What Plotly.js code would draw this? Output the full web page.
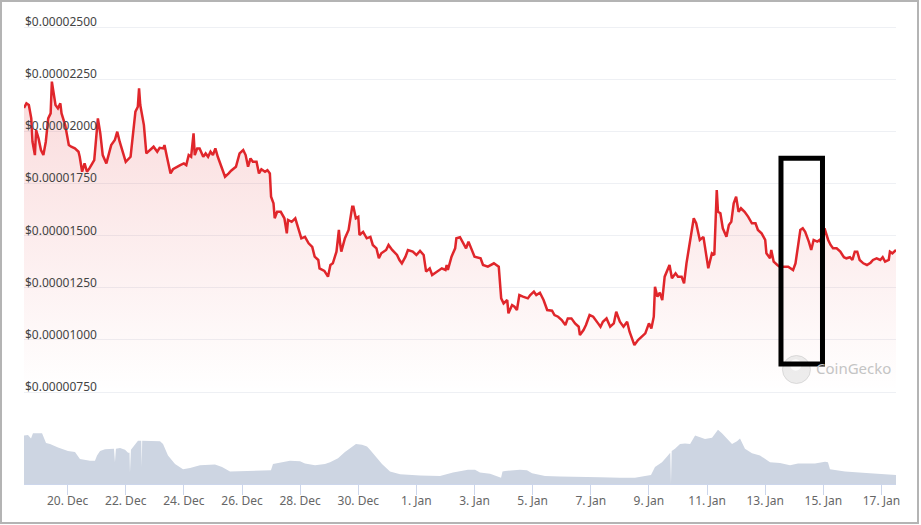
<!DOCTYPE html>
<html><head><meta charset="utf-8">
<script src="https://cdn.plot.ly/plotly-3.0.1.min.js"></script>
<style>
html,body{margin:0;padding:0;background:#fff;}
#chart{width:921px;height:525px;}
#frame{position:absolute;left:0;top:0;width:915px;height:520px;border:2px solid #b4b4b4;pointer-events:none;}
</style></head><body>
<div id="chart"></div><div id="frame"></div>
<script>
// ---- data ----
const seriesStart = '2023-12-18T12:00:00Z';
const xStart = '2023-12-18 12:00';
const xEnd = '2024-01-17 12:00';

// hours after seriesStart for each price point
const priceHours = [0,2,4,6,7,9,10,12,14,16,18,20,22,23,26,28,30,31,34,37,39,42,45,46,48,50,52,54,58,61,63,65,68,70,72,75,77,79,82,84,88,90,92,94,95,96,99,101,105,107,110,112,
115,116,118,121,123,126,129,132,134,136,138,140,141,143,145,148,150,152,154,156,158,160,163,166,169,171,175,178,181,183,185,187,189,192,194,196,199,201,203,204,206,207,209,212,215,217,218,221,224,226,229,232,235,
238,240,243,244,248,251,253,255,258,260,261,262,265,268,271,272,274,276,277,280,283,286,288,291,293,295,299,301,304,308,310,312,315,317,321,324,327,330,332,335,337,341,345,348,349,350,353,356,357,360,363,365,367,370,372,377,379,383,388,390,392,394,396,399,400,403,405,407,409,412,416,418,421,423,426,429,432,436,438,441,444,447,449,452,455,458,459,462,464,467,470,474,476,478,481,484,487,489,492,
495,498,500,504,507,510,513,516,518,520,521,523,525,527,529,533,535,538,540,543,545,547,551,553,555,558,561,563,565,568,570,572,573,575,577,580,582,584,586,588,590,592,595,598,601,604,606,609,612,613,616,617,619,622,624,628,631,635,637,639,641,643,645,648,650,652,655,657,659,661,664,666,668,671,674,677,679,682,684,686,688,690,693,696,699,701,704,707,709,711,714,715,717,720];

// price in USD
const priceUsd = [2.112e-5,2.134e-5,2.126e-5,2.062e-5,1.950e-5,1.886e-5,2.006e-5,1.966e-5,1.910e-5,1.886e-5,1.950e-5,2.062e-5,2.086e-5,2.238e-5,2.126e-5,2.110e-5,2.134e-5,2.086e-5,2.030e-5,1.934e-5,1.926e-5,1.918e-5,1.902e-5,1.878e-5,1.806e-5,1.846e-5,1.806e-5,1.822e-5,1.862e-5,2.062e-5,1.990e-5,1.886e-5,1.846e-5,1.886e-5,1.934e-5,1.958e-5,1.998e-5,1.950e-5,1.894e-5,1.854e-5,1.878e-5,1.998e-5,2.094e-5,2.118e-5,2.206e-5,2.126e-5,2.030e-5,1.894e-5,1.918e-5,1.926e-5,1.902e-5,1.921e-5,
1.918e-5,1.934e-5,1.878e-5,1.798e-5,1.818e-5,1.830e-5,1.838e-5,1.846e-5,1.838e-5,1.886e-5,1.878e-5,1.990e-5,1.886e-5,1.918e-5,1.918e-5,1.878e-5,1.894e-5,1.878e-5,1.902e-5,1.886e-5,1.918e-5,1.878e-5,1.830e-5,1.782e-5,1.798e-5,1.811e-5,1.830e-5,1.894e-5,1.910e-5,1.886e-5,1.830e-5,1.870e-5,1.854e-5,1.854e-5,1.798e-5,1.818e-5,1.806e-5,1.814e-5,1.798e-5,1.686e-5,1.655e-5,1.583e-5,1.614e-5,1.614e-5,1.583e-5,1.511e-5,1.575e-5,1.566e-5,1.583e-5,1.542e-5,1.487e-5,1.494e-5,1.463e-5,
1.446e-5,1.399e-5,1.383e-5,1.343e-5,1.331e-5,1.303e-5,1.359e-5,1.367e-5,1.423e-5,1.527e-5,1.463e-5,1.423e-5,1.487e-5,1.527e-5,1.638e-5,1.638e-5,1.583e-5,1.590e-5,1.503e-5,1.518e-5,1.487e-5,1.494e-5,1.455e-5,1.439e-5,1.391e-5,1.415e-5,1.431e-5,1.455e-5,1.431e-5,1.407e-5,1.383e-5,1.367e-5,1.399e-5,1.431e-5,1.423e-5,1.407e-5,1.427e-5,1.407e-5,1.327e-5,1.343e-5,1.311e-5,1.327e-5,1.343e-5,1.335e-5,1.359e-5,1.335e-5,1.399e-5,1.439e-5,1.487e-5,1.492e-5,1.463e-5,1.439e-5,1.471e-5,1.431e-5,1.399e-5,1.391e-5,1.359e-5,1.351e-5,1.367e-5,1.359e-5,1.351e-5,1.199e-5,1.175e-5,1.191e-5,1.127e-5,1.167e-5,1.159e-5,1.143e-5,1.215e-5,1.207e-5,1.199e-5,1.215e-5,1.231e-5,1.215e-5,1.226e-5,1.191e-5,1.143e-5,1.140e-5,1.119e-5,1.111e-5,1.095e-5,1.071e-5,1.103e-5,1.103e-5,1.079e-5,1.063e-5,1.023e-5,1.047e-5,1.071e-5,1.119e-5,1.111e-5,1.079e-5,1.063e-5,1.087e-5,1.103e-5,1.063e-5,1.079e-5,1.135e-5,1.087e-5,
1.063e-5,1.087e-5,1.039e-5,0.975e-5,0.999e-5,1.015e-5,1.031e-5,1.079e-5,1.055e-5,1.111e-5,1.255e-5,1.207e-5,1.226e-5,1.191e-5,1.303e-5,1.359e-5,1.295e-5,1.319e-5,1.303e-5,1.303e-5,1.271e-5,1.367e-5,1.511e-5,1.583e-5,1.559e-5,1.479e-5,1.494e-5,1.415e-5,1.343e-5,1.415e-5,1.407e-5,1.718e-5,1.614e-5,1.607e-5,1.535e-5,1.494e-5,1.551e-5,1.566e-5,1.655e-5,1.686e-5,1.614e-5,1.631e-5,1.614e-5,1.590e-5,1.559e-5,1.559e-5,1.527e-5,1.511e-5,1.479e-5,1.415e-5,1.391e-5,1.431e-5,1.375e-5,1.359e-5,1.351e-5,1.351e-5,1.351e-5,1.335e-5,1.367e-5,1.446e-5,1.527e-5,1.535e-5,1.518e-5,1.471e-5,1.431e-5,1.479e-5,1.471e-5,1.479e-5,1.455e-5,1.535e-5,1.479e-5,1.455e-5,1.439e-5,1.439e-5,1.423e-5,1.396e-5,1.391e-5,1.396e-5,1.383e-5,1.423e-5,1.423e-5,1.383e-5,1.367e-5,1.359e-5,1.370e-5,1.383e-5,1.391e-5,1.383e-5,1.396e-5,1.375e-5,1.383e-5,1.423e-5,1.415e-5,1.431e-5];

// hours after seriesStart for each volume point
const volumeHours = [0,3.3,5.8,7.4,14.9,18.2,21.5,28.1,36.3,42.1,46.2,54.5,58.6,60.3,62.8,66.9,74.3,75.1,75.9,79.3,83.4,85.9,87.1,87.5,88.3,90,94.1,96.8,97.2,97.6,104,112.3,114.8,118.9,124.7,131.3,137.1,145.3,157.7,163.5,170.1,186.6,199,203.9,205.6,211.4,219.6,227.9,232,240.3,248.5,252.7,259.3,265,270.8,274.1,279.1,283.2,285.7,289.8,295.6,302.2,310.5,327,343.5,354.2,360,366.6,372.4,376.5,384.8,392.2,393.9,395.1,397.2,409.5,415.3,419.5,430.2,442.6,459.1,475.6,492.1,504.5,512.8,517.7,521,526.8,531.7,533.6,534.2,534.8,537.5,541.7,545.8,550,554.1,558.2,562.3,568.1,571.4,573,576.3,580.5,584.6,588.7,591.2,595.3,601.1,607.7,611.9,616,624.2,632.5,639.1,653.1,661.4,663.8,665.5,677.9,698.5,720];
// relative volume (arbitrary units, axis hidden)
const volumeRel = [85,86,80,89,89,72,70,64,58,56,44,41,41,50,58,61,62,38,62,63,60,55,55,20,60,65,76,76,30,76,75,75,70,50,35,26,28,33,34,30,22,23,25,24,35,37,41,40,36,33,35,38,45,56,66,70,69,66,60,50,35,22,17,15,14,20,22,25,25,20,18,12,11,22,23,25,24,19,14,13,13,12,11,11,14,16,30,38,50,55,0,58,62,70,71,70,85,82,79,81,90,95,89,80,70,75,80,62,54,50,44,38,37,33,36,36,39,38,26,22,19,16];

const xTickDates = ['2023-12-20','2023-12-22','2023-12-24','2023-12-26','2023-12-28','2023-12-30','2024-01-01','2024-01-03','2024-01-05','2024-01-07','2024-01-09','2024-01-11','2024-01-13','2024-01-15','2024-01-17'];
const xTickLabels = ['20. Dec','22. Dec','24. Dec','26. Dec','28. Dec','30. Dec','1. Jan','3. Jan','5. Jan','7. Jan','9. Jan','11. Jan','13. Jan','15. Jan','17. Jan'];
const priceTickValues = [0.0000075,0.00001,0.0000125,0.000015,0.0000175,0.00002,0.0000225,0.000025];
const priceTickLabels = ['$0.00000750','$0.00001000','$0.00001250','$0.00001500','$0.00001750','$0.00002000','$0.00002250','$0.00002500'];

// ---- build ----
const t0 = Date.parse(seriesStart);
function toDate(h){ return new Date(t0 + h*3600000).toISOString().slice(0,19).replace('T',' '); }
const priceDates = priceHours.map(toDate);
const volumeDates = volumeHours.map(toDate);

const red = 'rgb(224,38,43)';
const traces = [
  {
    type:'scatter', mode:'lines', x: volumeDates, y: volumeRel, xaxis:'x', yaxis:'y2',
    fill:'tozeroy', fillcolor:'rgb(205,213,226)', line:{width:0, color:'rgb(205,213,226)'}, hoverinfo:'skip'
  },
  {
    type:'scatter', mode:'lines', x: priceDates, y: priceUsd, xaxis:'x', yaxis:'y',
    line:{color:red, width:2.5}, fill:'tozeroy',
    fillgradient:{type:'vertical', start:0.0000075, stop:0.000025,
      colorscale:[[0,'rgba(224,38,43,0)'],[1,'rgba(224,38,43,0.2)']]},
    hoverinfo:'skip'
  }
];

const yLabelAnnotations = priceTickValues.map((v, i) => ({
  xref:'paper', yref:'y', x:0, y:v, text:priceTickLabels[i], showarrow:false,
  xanchor:'left', yanchor:'bottom', borderpad:0, yshift:-4,
  font:{size:12, color:'#444'}
}));

const layout = {
  width:921, height:525,
  margin:{l:24, r:25, t:20, b:41, pad:0},
  paper_bgcolor:'#ffffff', plot_bgcolor:'rgba(0,0,0,0)',
  showlegend:false,
  font:{family:'"Noto Sans", sans-serif', size:12, color:'#555'},
  xaxis:{type:'date', range:[xStart, xEnd], anchor:'y2', tickmode:'array',
    tickvals:xTickDates, ticktext:xTickLabels, ticks:'outside', ticklen:10,
    tickcolor:'#ccd6eb', tickwidth:1, showline:true, linecolor:'#ccd6eb', linewidth:1,
    showgrid:false, zeroline:false, tickfont:{size:12, color:'#666'}, ticklabelstandoff:-4, fixedrange:true},
  yaxis:{domain:[0.18966,1], range:[7.3082e-6, 2.5337e-5], tickmode:'array',
    tickvals:priceTickValues, showticklabels:false, ticks:'', showgrid:true, gridcolor:'#eef0f4', gridwidth:1,
    zeroline:false, showline:false, fixedrange:true},
  yaxis2:{domain:[0,0.12284], range:[0,100], showticklabels:false, ticks:'', showgrid:false,
    zeroline:false, showline:false, fixedrange:true},
  shapes:[
    {type:'circle', xref:'paper', yref:'paper', x0:0.8698, x1:0.9019, y0:0.2166, y1:0.2769,
      fillcolor:'rgba(215,215,215,0.45)', line:{color:'rgba(200,200,200,0.6)', width:1}, layer:'above'},
    {type:'circle', xref:'paper', yref:'paper', x0:0.8785, x1:0.8915, y0:0.2442, y1:0.2690,
      fillcolor:'rgba(255,255,255,0.8)', line:{width:0}, layer:'above'},
    {type:'rect', xref:'paper', yref:'paper', x0:0.8681, x1:0.9157, y0:0.2586, y1:0.7019,
      line:{color:'#000', width:5}, fillcolor:'rgba(0,0,0,0)', layer:'above'}
  ],
  annotations:[
    ...yLabelAnnotations,
    {xref:'paper', yref:'paper', x:0.9515, y:0.2494, text:'CoinGecko', showarrow:false,
      xanchor:'center', yanchor:'middle', font:{size:15, color:'#c4c4c4'}}
  ]
};

Plotly.newPlot('chart', traces, layout, {displayModeBar:false, staticPlot:true});
</script></body></html>
